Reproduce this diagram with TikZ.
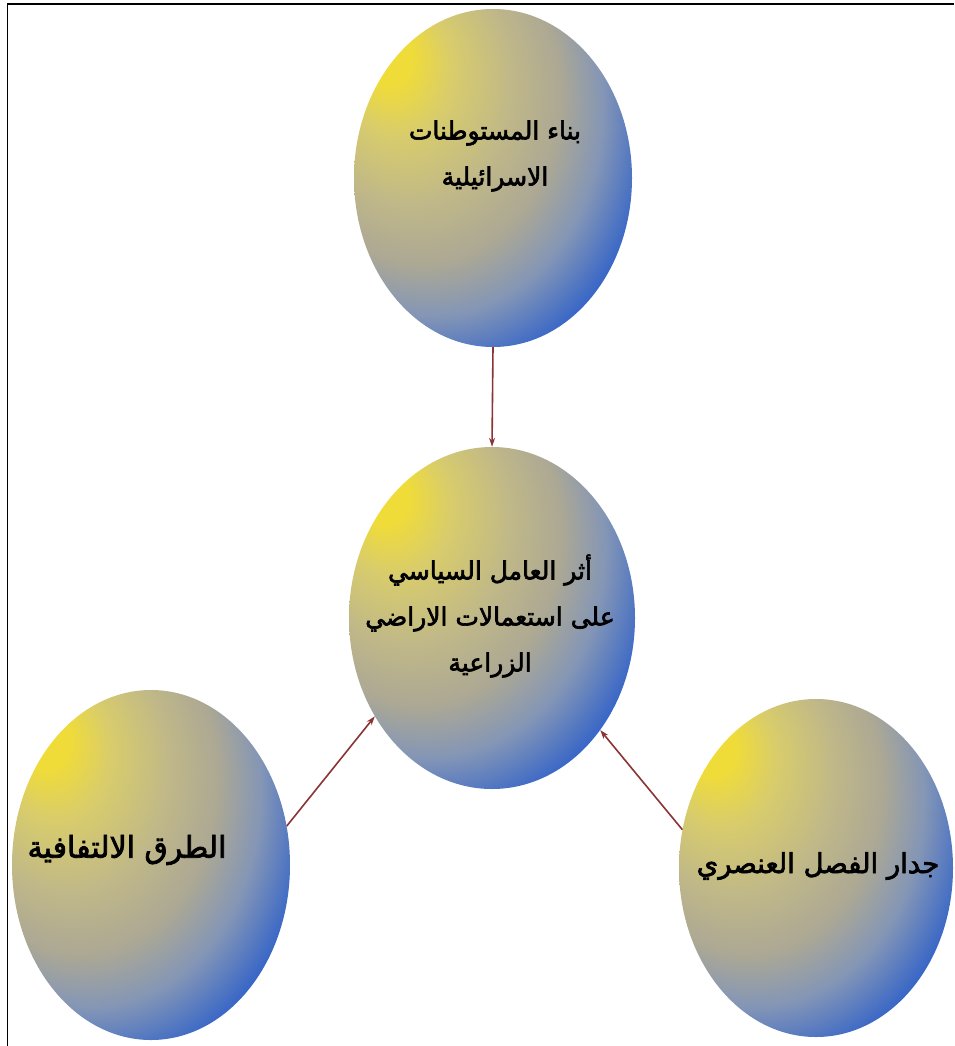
\documentclass[tikz,border=0pt]{standalone}
\usepackage{fontspec}
\usetikzlibrary{shapes.geometric,arrows.meta}
\TeXXeTstate=1
\newfontfamily\arabicfont[Script=Arabic,FakeBold=2.5]{DejaVu Sans}
\definecolor{bA}{HTML}{F0DC38}
\definecolor{bB}{HTML}{D8CC6C}
\definecolor{bC}{HTML}{C0B888}
\definecolor{bD}{HTML}{ACA894}
\definecolor{bF}{HTML}{8496B6}
\definecolor{bE}{HTML}{3464C8}
\definecolor{arrowred}{HTML}{8A3434}
\pgfdeclareradialshading{ballshade}{\pgfpoint{-20bp}{19bp}}{color(0bp)=(bA); color(4bp)=(bA); color(10bp)=(bB); color(18bp)=(bC); color(25bp)=(bD); color(31bp)=(bF); color(38bp)=(bE); color(70bp)=(bE)}
\begin{document}
\begin{tikzpicture}[x=1pt,y=-1pt,
  ball/.style={ellipse, shading=ballshade, inner sep=0pt},
  label/.style={font=\arabicfont\fontsize{25}{46}\selectfont, align=center, text=black, inner sep=0pt},
  link/.style={draw=arrowred, line width=1.6pt, -{Stealth[length=9pt,width=6pt]}}]
\useasboundingbox (0,0) rectangle (954,1046);
\fill[white] (0,0) rectangle (954,1046);
\draw[line width=1.8pt] (7.5,1046) -- (7.5,4) -- (954,4);

\node[ball, minimum width=278pt, minimum height=338pt] (top) at (493,178) {};
\node[ball, minimum width=286pt, minimum height=342pt] (mid) at (492,618) {};
\node[ball, minimum width=278pt, minimum height=350pt] (left) at (151,865) {};
\node[ball, minimum width=274pt, minimum height=338pt] (right) at (816,868) {};

\node[label] (ttop) at (495,156) {\beginR بناء المستوطنات\endR\\\beginR الاسرائيلية\endR};
\node[label] (tmid) at (490,616) {\beginR أثر العامل السياسي\endR\\\beginR على استعمالات الاراضي\endR\\\beginR الزراعية\endR};
\node[label, font=\arabicfont\fontsize{30}{40}\selectfont] (tleft) at (127,850) {\beginR الطرق الالتفافية\endR};
\node[label, font=\arabicfont\fontsize{27.5}{40}\selectfont] (tright) at (818,866) {\beginR جدار الفصل العنصري\endR};

\draw[link] (top.south) -- (mid.north);
\draw[link] (left.16) -- (mid.220);
\draw[link] (right.164) -- (mid.314);
\end{tikzpicture}
\end{document}
